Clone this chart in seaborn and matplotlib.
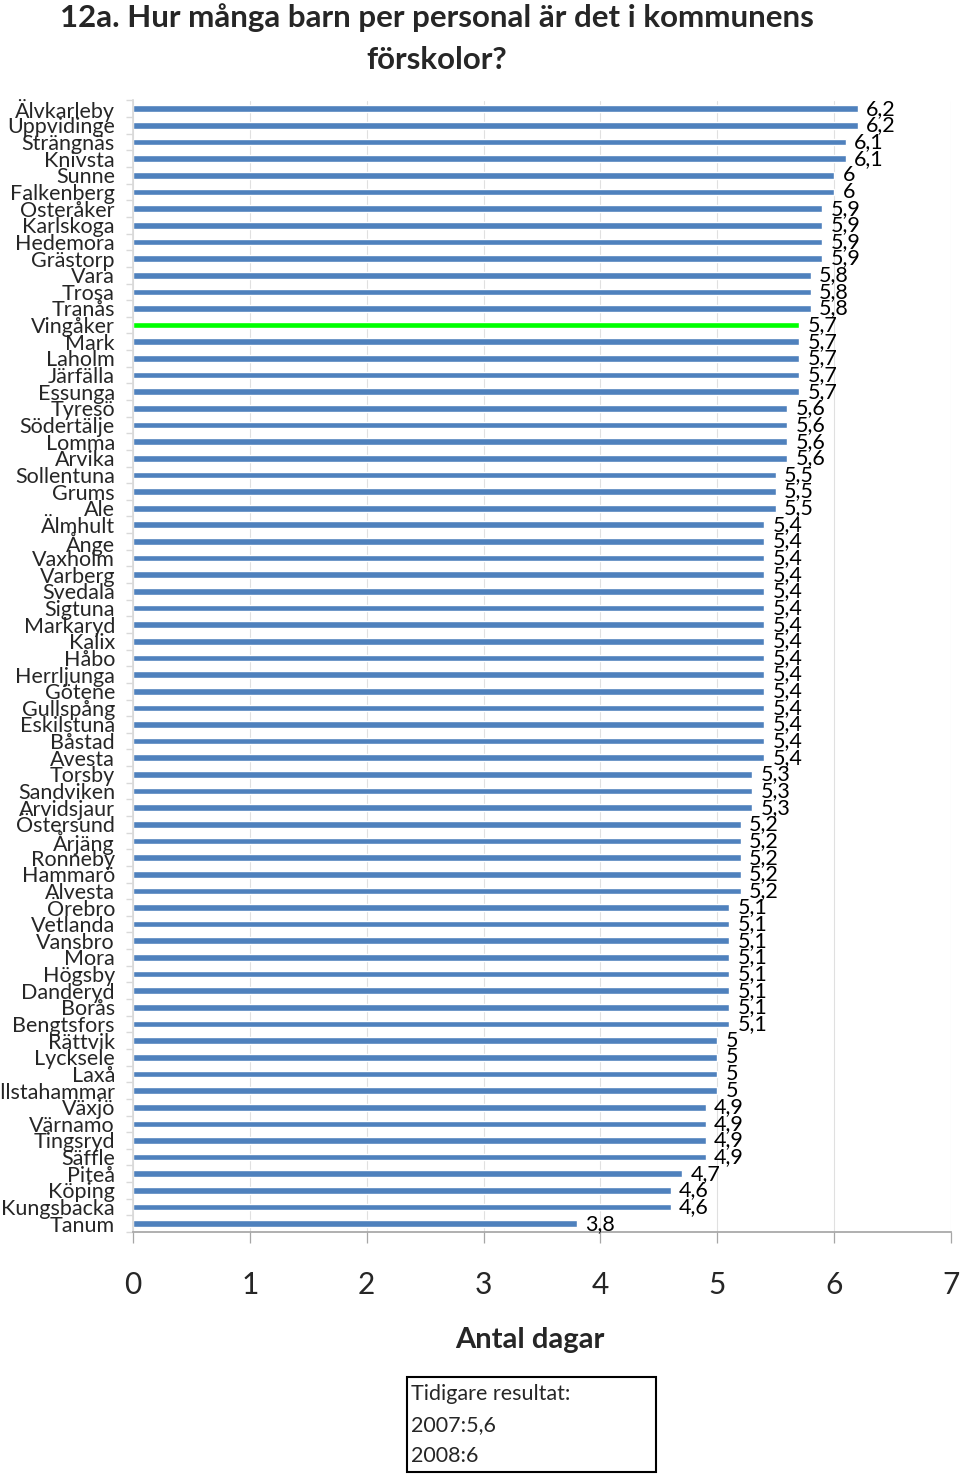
import matplotlib
matplotlib.use("Agg")
import matplotlib.pyplot as plt
from matplotlib.patches import Rectangle
import seaborn as sns
import pandas as pd
import numpy as np

categories = ["Älvkarleby", "Uppvidinge", "Strängnäs", "Knivsta", "Sunne", "Falkenberg",
              "Österåker", "Karlskoga", "Hedemora", "Grästorp", "Vara", "Trosa", "Tranås",
              "Vingåker", "Mark", "Laholm", "Järfälla", "Essunga", "Tyresö", "Södertälje",
              "Lomma", "Arvika", "Sollentuna", "Grums", "Ale", "Älmhult", "Ånge", "Vaxholm",
              "Varberg", "Svedala", "Sigtuna", "Markaryd", "Kalix", "Håbo", "Herrljunga",
              "Götene", "Gullspång", "Eskilstuna", "Båstad", "Avesta", "Torsby", "Sandviken",
              "Arvidsjaur", "Östersund", "Årjäng", "Ronneby", "Hammarö", "Alvesta", "Örebro",
              "Vetlanda", "Vansbro", "Mora", "Högsby", "Danderyd", "Borås", "Bengtsfors",
              "Rättvik", "Lycksele", "Laxå", "Hallstahammar", "Växjö", "Värnamo", "Tingsryd",
              "Säffle", "Piteå", "Köping", "Kungsbacka", "Tanum"]
values = [6.2, 6.2, 6.1, 6.1, 6.0, 6.0,
          5.9, 5.9, 5.9, 5.9, 5.8, 5.8, 5.8,
          5.7, 5.7, 5.7, 5.7, 5.7, 5.6, 5.6,
          5.6, 5.6, 5.5, 5.5, 5.5, 5.4, 5.4, 5.4,
          5.4, 5.4, 5.4, 5.4, 5.4, 5.4, 5.4,
          5.4, 5.4, 5.4, 5.4, 5.4, 5.3, 5.3,
          5.3, 5.2, 5.2, 5.2, 5.2, 5.2, 5.1,
          5.1, 5.1, 5.1, 5.1, 5.1, 5.1, 5.1,
          5.0, 5.0, 5.0, 5.0, 4.9, 4.9, 4.9,
          4.9, 4.7, 4.6, 4.6, 3.8]
highlight = "Vingåker"
x_ticks = [0, 1, 2, 3, 4, 5, 6, 7]
title_lines = ["12a. Hur många barn per personal är det i kommunens", "förskolor?"]
x_label = "Antal dagar"
note_lines = ["Tidigare resultat:", "2007:5,6", "2008:6"]

sns.set_theme(style="white")
plt.rcParams['font.family'] = ['Lato', 'DejaVu Sans']

df = pd.DataFrame({"kommun": categories, "varde": values})
palette = {c: ("#00FF00" if c == highlight else "#4F81BD") for c in categories}

W, H = 960, 1474
fig = plt.figure(figsize=(9.6, 14.74), dpi=100)
ax = fig.add_axes([133/W, 1 - 1232/H, (951-133)/W, (1232-100.5)/H])

sns.barplot(data=df, x="varde", y="kommun", hue="kommun", palette=palette,
            legend=False, width=0.4, saturation=1, ax=ax, order=categories)

ax.set_xlim(0, 7)
ax.set_ylim(len(categories) - 0.5, -0.5)
ax.set_xticks(x_ticks)
ax.set_xticklabels([str(t) for t in x_ticks], fontsize=21.5)
ax.xaxis.grid(True, color="#E0E0E0", linewidth=0.8)
ax.set_axisbelow(True)
ax.tick_params(axis="x", direction="out", length=8, width=0.9, color="#A6A6A6", pad=20, bottom=True)
ax.tick_params(axis="y", length=0, pad=13, labelsize=15.5)
ax.set_yticks(range(len(categories)))
ax.set_yticklabels(categories)
ax.set_yticks(np.arange(-0.5, len(categories), 1), minor=True)
ax.tick_params(axis="y", which="minor", direction="out", length=5, color="#D9D9D9", left=True)
for s in ["top", "right"]:
    ax.spines[s].set_visible(False)
ax.spines["left"].set_color("#D9D9D9")
ax.spines["bottom"].set_color("#A6A6A6")
ax.set_ylabel("")
ax.set_xlabel("")

def fmt(v):
    s = f"{v:.1f}".replace(".", ",")
    return s[:-2] if s.endswith(",0") else s

for cont in ax.containers:
    labs = [fmt(b.get_width()) for b in cont]
    ax.bar_label(cont, labels=labs, padding=6, fontsize=15.5, color="black")

fig.text(437/W, 1 - 18/H, title_lines[0], ha="center", va="center", fontsize=22.5, fontweight="bold")
fig.text(437/W, 1 - 60/H, title_lines[1], ha="center", va="center", fontsize=22.5, fontweight="bold")
fig.text(530/W, 1 - 1340/H, x_label, ha="center", va="center", fontsize=21, fontweight="bold")

fig.add_artist(Rectangle((407/W, 1 - 1472/H), 249/W, 95/H, transform=fig.transFigure,
                         fill=False, edgecolor="black", linewidth=1.5))
for i, line in enumerate(note_lines):
    fig.text(411/W, 1 - (1394 + 31*i)/H, line, ha="left", va="center", fontsize=15.5)

fig.savefig("out.png", dpi=100)
